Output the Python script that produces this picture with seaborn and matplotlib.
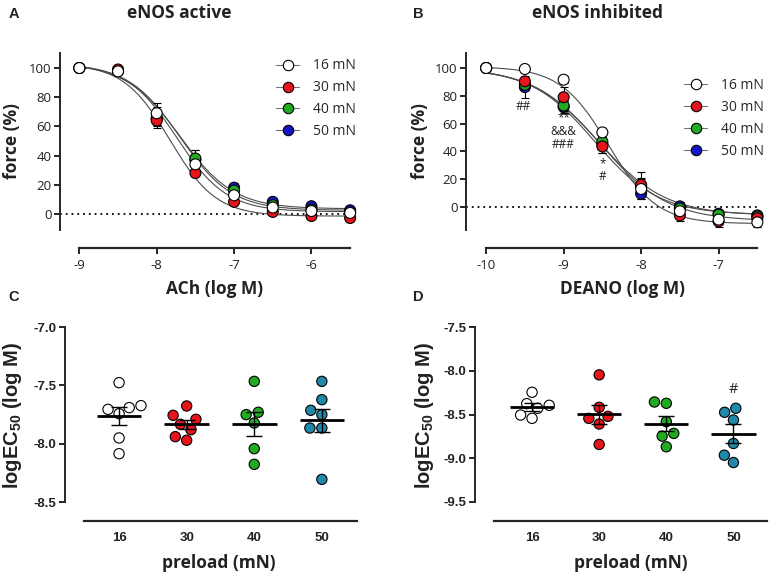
import numpy as np
import pandas as pd
import seaborn as sns
import matplotlib.pyplot as plt
from matplotlib.lines import Line2D

sns.set_theme(style="ticks")
plt.rcParams['font.family'] = ['Open Sans', 'DejaVu Sans']

W, H = 774, 578

# ---- data ----
preloads = ["16 mN", "30 mN", "40 mN", "50 mN"]
groups = ["16", "30", "40", "50"]
curve_colors = ["white", "#e8141c", "#22aa22", "#1414c8"]
dot_colors = ["white", "#e8141c", "#22aa22", "#2088a8"]

# A: ACh, eNOS active (mean force %, SEM)
ach_logM = [-9, -8.5, -8, -7.5, -7, -6.5, -6, -5.5]
ach_16 = [100, 97.7, 69, 34, 12.8, 4.4, 2, 0.7]
ach_30 = [100, 99, 64, 28, 8.3, 1.4, -1.4, -2.8]
ach_40 = [100, 98, 65, 38, 16, 6, 3, 1]
ach_50 = [100, 98, 66, 37, 18, 8.3, 5.3, 2.5]
ach_sem_16 = [0, 2, 7, 5, 3, 2, 1.5, 1.5]
ach_sem_30 = [0, 2, 3, 2, 1.5, 1, 1, 1]
ach_sem_40 = [0, 2, 5, 6, 3, 2, 1.5, 1.5]
ach_sem_50 = [0, 2, 7, 7, 3, 2.5, 1.5, 1.5]
# fitted sigmoid parameters
ach_top = [103, 103, 103, 103]
ach_bottom = [1.5, -1.5, 2.5, 3.5]
ach_logec50 = [-7.74, -7.83, -7.70, -7.70]
ach_hill = [1.35, 1.45, 1.3, 1.25]

# B: DEANO, eNOS inhibited
deano_logM = [-10, -9.5, -9, -8.5, -8, -7.5, -7, -6.5]
deano_16 = [100, 99.3, 91.6, 53.7, 13, -3, -9, -11]
deano_30 = [100, 90.4, 79, 43.6, 16, -6, -10.3, -8]
deano_40 = [100, 88, 73, 47, 15, -1, -5.5, -6.7]
deano_50 = [100, 86.3, 72, 45, 9.6, 0.5, -4.8, -6]
deano_sem_16 = [0, 1.5, 2.5, 3, 7, 3, 3, 3.5]
deano_sem_30 = [0, 3, 7, 5, 9, 4, 4, 3]
deano_sem_40 = [0, 4, 4, 4, 6, 3, 2, 2]
deano_sem_50 = [0, 8, 4, 6, 4, 3, 2, 2]
deano_top = [101, 100, 100, 100]
deano_bottom = [-12, -10, -6, -5.5]
deano_logec50 = [-8.42, -8.52, -8.55, -8.6]
deano_hill = [1.4, 1.0, 1.0, 1.05]

# C / D: logEC50 per preload
c_16 = [-7.477, -7.691, -7.706, -7.674, -7.743, -7.951, -8.086]
c_30 = [-7.677, -7.791, -7.757, -7.834, -7.880, -7.971, -7.940]
c_40 = [-7.466, -7.731, -7.751, -7.823, -8.043, -8.177]
c_50 = [-7.466, -7.623, -7.714, -7.751, -7.866, -7.866, -8.306]
d_16 = [-8.246, -8.376, -8.395, -8.429, -8.506, -8.544]
d_30 = [-8.047, -8.418, -8.544, -8.521, -8.609, -8.842]
d_40 = [-8.357, -8.372, -8.582, -8.716, -8.747, -8.869]
d_50 = [-8.429, -8.475, -8.563, -8.831, -8.965, -9.049]


def hill(x, top, bottom, ec, h):
    return bottom + (top - bottom) / (1 + 10 ** ((x - ec) * h))


fig = plt.figure(figsize=(W / 100, H / 100), dpi=100)


def px_axes(l, t, r, b):
    return fig.add_axes([l / W, 1 - b / H, (r - l) / W, (b - t) / H])


def ftext(x, y, s, **kw):
    fig.text(x / W, 1 - y / H, s, **kw)


def style_axes(ax, offset_pt):
    sns.despine(ax=ax)
    ax.spines['left'].set_linewidth(1.4)
    ax.spines['bottom'].set_linewidth(1.6)
    ax.spines['bottom'].set_position(('outward', offset_pt))
    ax.tick_params(width=1.2, length=4, color='black', pad=2)


def dose_panel(ax, logM, means, sems, tops, bottoms, ecs, hills, xlim, ylim, xticks):
    ax.set_xlim(*xlim)
    ax.set_ylim(*ylim)
    xs = np.linspace(logM[0], logM[-1], 200)
    for i, name in enumerate(preloads):
        sns.lineplot(x=xs, y=hill(xs, tops[i], bottoms[i], ecs[i], hills[i]),
                     color='0.3', lw=0.8, ax=ax, zorder=2)
    ax.axhline(0, xmin=0, xmax=(logM[-1] - xlim[0]) / (xlim[1] - xlim[0]),
               color='black', ls=(0, (1, 2.2)), lw=1.3, zorder=1)
    # draw 50 first, 16 last so white sits on top
    rows = []
    for i in reversed(range(4)):
        ax.errorbar(logM, means[i], yerr=sems[i], fmt='none', ecolor='black',
                    elinewidth=0.8, capsize=3, capthick=0.8, zorder=3)
        for x, y in zip(logM, means[i]):
            rows.append({'logM': x, 'force': y, 'preload': preloads[i]})
    df = pd.DataFrame(rows)
    sns.scatterplot(data=df, x='logM', y='force', hue='preload', hue_order=preloads,
                    palette=dict(zip(preloads, curve_colors)), s=62,
                    edgecolor='black', linewidth=0.8, legend=False, ax=ax,
                    zorder=4, clip_on=False)
    ax.set_xlabel('')
    ax.set_ylabel('')
    ax.set_yticks([0, 20, 40, 60, 80, 100])
    ax.set_xticks(xticks)
    ax.set_xticklabels([f"{t:g}" for t in xticks])
    style_axes(ax, 13)
    ax.spines['bottom'].set_bounds(logM[0], logM[-1])
    ax.tick_params(axis='x', pad=4)
    for lab in ax.get_xticklabels() + ax.get_yticklabels():
        lab.set_fontsize(9.5)
        lab.set_color('#222222')
    handles = [Line2D([0], [0], color='0.45', lw=0.8, marker='o', markersize=7.5,
                      markerfacecolor=c, markeredgecolor='black', markeredgewidth=0.8)
               for c in curve_colors]
    return handles


# ---- Panel A ----
axA = px_axes(60, 53, 354, 230)
hA = dose_panel(axA, ach_logM, [ach_16, ach_30, ach_40, ach_50],
                [ach_sem_16, ach_sem_30, ach_sem_40, ach_sem_50],
                ach_top, ach_bottom, ach_logec50, ach_hill,
                (-9.25, -5.45), (-11, 110.3), [-9, -8, -7, -6])
axA.legend(hA, preloads, loc='upper right', bbox_to_anchor=(1.05, 1.04),
           frameon=False, handlelength=1.7, handletextpad=1.0,
           labelspacing=0.5, fontsize=10)

# ---- Panel B ----
axB = px_axes(466, 53, 762, 230)
hB = dose_panel(axB, deano_logM, [deano_16, deano_30, deano_40, deano_50],
                [deano_sem_16, deano_sem_30, deano_sem_40, deano_sem_50],
                deano_top, deano_bottom, deano_logec50, deano_hill,
                (-10.26, -6.44), (-16.5, 110.8), [-10, -9, -8, -7])
axB.legend(hB, preloads, loc='upper right', bbox_to_anchor=(1.05, 0.93),
           frameon=False, handlelength=1.7, handletextpad=1.0,
           labelspacing=0.5, fontsize=10)
for s, x, y in [("##", -9.52, 72.4), ("**", -9.0, 64.0), ("&&&", -9.0, 54.5),
                ("###", -9.0, 45.0), ("*", -8.5, 31.0), ("#", -8.5, 22.0)]:
    axB.text(x, y, s, ha='center', va='center', fontsize=8.5, color='#222222')


# ---- Panels C / D ----
def ec50_panel(ax, data, xlim, ylim, yticks):
    ax.set_ylim(*ylim)
    df = pd.DataFrame({'preload': np.repeat(groups, [len(v) for v in data]),
                       'val': np.concatenate(data)})
    sns.swarmplot(data=df, x='preload', y='val', hue='preload', order=groups,
                  hue_order=groups, palette=dict(zip(groups, dot_colors)),
                  size=7.4, edgecolor='black', linewidth=0.8, legend=False,
                  ax=ax, zorder=3, clip_on=False)
    for i, v in enumerate(data):
        v = np.asarray(v)
        m = v.mean()
        sem = v.std(ddof=1) / np.sqrt(len(v))
        ax.hlines(m, i - 0.33, i + 0.33, color='black', lw=2.0, zorder=4)
        ax.errorbar(i, m, yerr=sem, fmt='none', ecolor='black', elinewidth=1.0,
                    capsize=6, capthick=1.0, zorder=4)
    ax.set_xlim(*xlim)
    ax.set_ylim(*ylim)
    ax.set_xlabel('')
    ax.set_ylabel('')
    ax.set_yticks(yticks)
    ax.set_yticklabels([f"{t:.1f}" for t in yticks])
    style_axes(ax, 13.7)
    ax.tick_params(axis='x', length=0, pad=8)
    for lab in ax.get_xticklabels() + ax.get_yticklabels():
        lab.set_fontfamily('Liberation Sans')
        lab.set_fontweight('bold')
        lab.set_fontsize(9.5)
        lab.set_color('#222222')


axC = px_axes(65, 327, 357, 502)
ec50_panel(axC, [c_16, c_30, c_40, c_50], (-0.8, 3.52), (-8.5, -7.0),
           [-7.0, -7.5, -8.0, -8.5])
axC.spines['bottom'].set_bounds(-0.52, 3.52)

axD = px_axes(475, 327, 767, 502)
ec50_panel(axD, [d_16, d_30, d_40, d_50], (-0.85, 3.5), (-9.5, -7.5),
           [-7.5, -8.0, -8.5, -9.0, -9.5])
axD.spines['bottom'].set_bounds(-0.57, 3.5)
axD.text(3, -8.21, "#", ha='center', va='center', fontsize=10.5, color='#222222')

# ---- titles, labels ----
lab_kw = dict(fontweight='bold', color='#222222')
ftext(14, 14, "A", ha='center', va='center', fontsize=10.5, family='Liberation Sans', **lab_kw)
ftext(418, 14, "B", ha='center', va='center', fontsize=10.5, family='Liberation Sans', **lab_kw)
ftext(14, 297, "C", ha='center', va='center', fontsize=10.5, family='Liberation Sans', **lab_kw)
ftext(418, 297, "D", ha='center', va='center', fontsize=10.5, family='Liberation Sans', **lab_kw)
ftext(179, 13, "eNOS active", ha='center', va='center', fontsize=12.5, **lab_kw)
ftext(597, 13, "eNOS inhibited", ha='center', va='center', fontsize=12.5, **lab_kw)

ftext(12, 141, "force (%)", ha='center', va='center', rotation=90, fontsize=12.5, **lab_kw)
ftext(420, 141, "force (%)", ha='center', va='center', rotation=90, fontsize=12.5, **lab_kw)
ftext(215, 289, "ACh (log M)", ha='center', va='center', fontsize=12.5, **lab_kw)
ftext(622, 289, "DEANO (log M)", ha='center', va='center', fontsize=12.5, **lab_kw)

ftext(13, 415, r"logEC$_{\mathregular{50}}$ (log M)", ha='center', va='center', rotation=90,
      fontsize=14.5, family='Liberation Sans', **lab_kw)
ftext(424, 415, r"logEC$_{\mathregular{50}}$ (log M)", ha='center', va='center', rotation=90,
      fontsize=14.5, family='Liberation Sans', **lab_kw)
ftext(219, 563, "preload (mN)", ha='center', va='center', fontsize=12.5, **lab_kw)
ftext(631, 563, "preload (mN)", ha='center', va='center', fontsize=12.5, **lab_kw)

fig.savefig("out.png", dpi=100)
